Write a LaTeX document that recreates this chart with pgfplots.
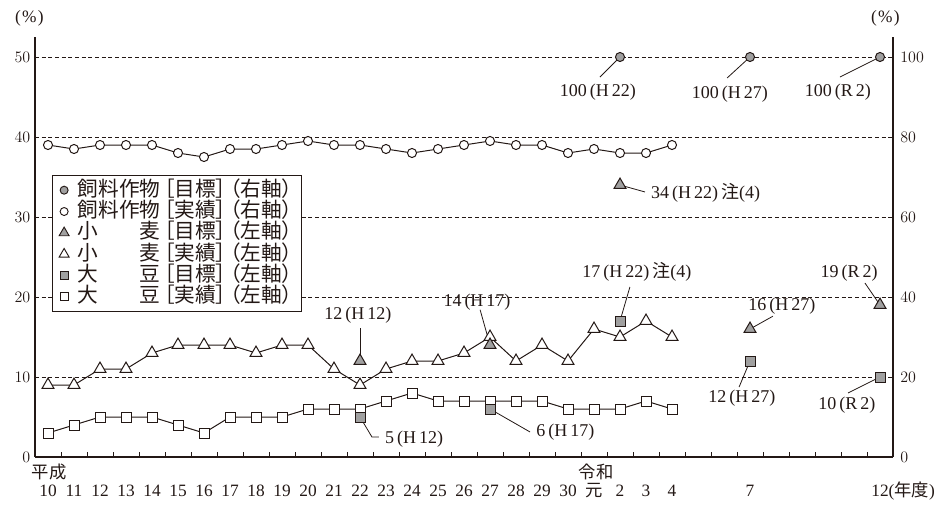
\documentclass[border=0pt]{standalone}
\usepackage{fontspec}
\setmainfont{Liberation Serif}
\newfontfamily\cjk{Noto Sans CJK JP}
\newfontfamily\cjkp[RawFeature=+palt]{Noto Sans CJK JP}
\usepackage{pgfplots}
\pgfplotsset{compat=1.18}
\definecolor{ink}{RGB}{35,24,21}
\definecolor{tgray}{RGB}{160,160,160}
\newcommand\tfont{\fontsize{13}{15}\selectfont}
\newcommand\afont{\fontsize{13.5}{16}\selectfont}
\newcommand\lfont{\fontsize{15.5}{17}\selectfont\cjkp}
\newcommand\lgent[3]{#1\kern3pt［#2］\kern3pt（#3）}
\begin{document}
\begin{tikzpicture}
\path (0pt,0pt) rectangle (708pt,-373.5pt);
% ---------- left axis ----------
\begin{axis}[
  at={(26.25pt,-342.75pt)}, anchor=south west,
  scale only axis, width=643.5pt, height=315pt,
  xmin=9.5, xmax=42.5, ymin=0, ymax=52.5,
  axis x line*=bottom, axis y line*=left,
  axis line style={-, draw=ink, line width=1pt},
  xtick={10,11,...,34,37,42},
  xticklabels={10,11,12,13,14,15,16,17,18,19,20,21,22,23,24,25,26,27,28,29,30,{\cjk 元},2,3,4,7,{12\rlap{({\cjk 年度})}}},
  minor xtick={10.5,11.5,...,41.5},
  ytick={0,10,...,50},
  major tick length=0pt, minor tick length=4pt, tick align=inside,
  minor tick style={draw=ink, line width=0.75pt},
  ymajorgrids, major grid style={draw=ink, line width=0.6pt, dash pattern=on 3pt off 2pt},
  xticklabel style={anchor=base, yshift=-29.6pt, font=\tfont, text=ink},
  yticklabel style={font=\tfont, text=ink},
  clip=false,
]
% leader lines
\draw[ink, line width=0.6pt] (axis cs:32,50) -- (axis cs:31.23,47.5);
\draw[ink, line width=0.6pt] (axis cs:37,50) -- (axis cs:36.12,47.38);
\draw[ink, line width=0.6pt] (axis cs:42,50) -- (axis cs:40.46,47.5);
\draw[ink, line width=0.6pt] (axis cs:32,34) -- (axis cs:32.96,33.13);
\draw[ink, line width=0.6pt] (axis cs:32,17) -- (axis cs:32.38,21.25);
\draw[ink, line width=0.6pt] (axis cs:22,12) -- (axis cs:22,16.1);
\draw[ink, line width=0.6pt] (axis cs:27,14) -- (axis cs:26.62,18.4);
\draw[ink, line width=0.6pt] (axis cs:22,5) -- (axis cs:22.46,2.5) -- (axis cs:22.73,2.5);
\draw[ink, line width=0.6pt] (axis cs:27,6) -- (axis cs:28.54,3.13);
\draw[ink, line width=0.6pt] (axis cs:37,16) -- (axis cs:37.88,17.6);
\draw[ink, line width=0.6pt] (axis cs:37,12) -- (axis cs:36.58,8.75);
\draw[ink, line width=0.6pt] (axis cs:42,10) -- (axis cs:40.77,8.0);
\draw[ink, line width=0.6pt] (axis cs:42,19) -- (axis cs:41.42,21.75);
% annotation texts
\node[font=\afont, text=ink] at (axis cs:31.15,45.63) {100\,(H\,22)};
\node[font=\afont, text=ink] at (axis cs:36.23,45.38) {100\,(H\,27)};
\node[font=\afont, text=ink] at (axis cs:40.38,45.63) {100\,(R\,2)};
\node[font=\afont, text=ink, anchor=west, inner sep=0pt] at (axis cs:33.19,33.0) {34\,(H\,22)\,{\cjk 注}(4)};
\node[font=\afont, text=ink] at (axis cs:32.65,23.1) {17\,(H\,22)\,{\cjk 注}(4)};
\node[font=\afont, text=ink] at (axis cs:21.92,17.75) {12\,(H\,12)};
\node[font=\afont, text=ink] at (axis cs:26.5,19.4) {14\,(H\,17)};
\node[font=\afont, text=ink, anchor=west, inner sep=0pt] at (axis cs:22.96,2.25) {5\,(H\,12)};
\node[font=\afont, text=ink, anchor=west, inner sep=0pt] at (axis cs:28.77,3.13) {6\,(H\,17)};
\node[font=\afont, text=ink] at (axis cs:38.23,18.9) {16\,(H\,27)};
\node[font=\afont, text=ink] at (axis cs:36.69,7.38) {12\,(H\,27)};
\node[font=\afont, text=ink] at (axis cs:40.73,6.5) {10\,(R\,2)};
\node[font=\afont, text=ink] at (axis cs:40.81,23.0) {19\,(R\,2)};
% wheat actual
\addplot[ink, line width=0.75pt, mark=triangle*, mark size=5.2pt,
  mark options={fill=white, draw=ink, line width=0.75pt, solid}] coordinates {
 (10,9)(11,9)(12,11)(13,11)(14,13)(15,14)(16,14)(17,14)(18,13)(19,14)(20,14)
 (21,11)(22,9)(23,11)(24,12)(25,12)(26,13)(27,15)(28,12)(29,14)(30,12)
 (31,16)(32,15)(33,17)(34,15)};
% soybean actual
\addplot[ink, line width=0.75pt, mark=square*, mark size=3.75pt,
  mark options={fill=white, draw=ink, line width=0.75pt, solid}] coordinates {
 (10,3)(11,4)(12,5)(13,5)(14,5)(15,4)(16,3)(17,5)(18,5)(19,5)(20,6)
 (21,6)(22,6)(23,7)(24,8)(25,7)(26,7)(27,7)(28,7)(29,7)(30,6)
 (31,6)(32,6)(33,7)(34,6)};
% wheat target
\addplot[only marks, mark=triangle*, mark size=5.2pt,
  mark options={fill=tgray, draw=ink, line width=0.75pt}] coordinates {
 (22,12)(27,14)(32,34)(37,16)(42,19)};
% soybean target
\addplot[only marks, mark=square*, mark size=3.75pt,
  mark options={fill=tgray, draw=ink, line width=0.75pt}] coordinates {
 (22,5)(27,6)(32,17)(37,12)(42,10)};
\end{axis}
% ---------- right axis ----------
\begin{axis}[
  at={(26.25pt,-342.75pt)}, anchor=south west,
  scale only axis, width=643.5pt, height=315pt,
  xmin=9.5, xmax=42.5, ymin=0, ymax=105,
  axis y line*=right, axis x line=none, xtick=\empty,
  axis line style={-, draw=ink, line width=1pt},
  ytick={0,20,...,100},
  major tick length=0pt,
  yticklabel style={font=\tfont, text=ink, xshift=2pt},
  clip=false,
  legend image code/.code={\draw[#1] plot coordinates {(0pt,0pt)};},
  legend cell align=left,
  legend style={at={(0.0198,0.6714)}, anchor=north west, draw=ink, line width=0.75pt,
    fill=white, inner xsep=5pt, inner ysep=3pt, font=\lfont, text=ink,
    nodes={inner xsep=1.6pt, inner ysep=0.6pt, text height=12pt, text depth=2.8pt},
    /tikz/every odd column/.append style={column sep=5pt}},
]
\addplot[forget plot, ink, line width=0.75pt, mark=*, mark size=3.4pt,
  mark options={fill=white, draw=ink, line width=0.75pt, solid}] coordinates {
 (10,78)(11,77)(12,78)(13,78)(14,78)(15,76)(16,75)(17,77)(18,77)(19,78)(20,79)
 (21,78)(22,78)(23,77)(24,76)(25,77)(26,78)(27,79)(28,78)(29,78)(30,76)
 (31,77)(32,76)(33,76)(34,78)};
\addplot[forget plot, only marks, mark=*, mark size=3.4pt,
  mark options={fill=tgray, draw=ink, line width=0.75pt}] coordinates {
 (32,100)(37,100)(42,100)};
\addlegendimage{mark=*, mark size=3pt, mark options={fill=tgray, draw=ink, line width=0.7pt}}
\addlegendentry{\lgent{飼料作物}{目標}{右軸}}
\addlegendimage{mark=*, mark size=3pt, mark options={fill=white, draw=ink, line width=0.7pt}}
\addlegendentry{\lgent{飼料作物}{実績}{右軸}}
\addlegendimage{mark=triangle*, mark size=4.3pt, mark options={fill=tgray, draw=ink, line width=0.7pt}}
\addlegendentry{\lgent{小\hbox to 2em{}麦}{目標}{左軸}}
\addlegendimage{mark=triangle*, mark size=4.3pt, mark options={fill=white, draw=ink, line width=0.7pt}}
\addlegendentry{\lgent{小\hbox to 2em{}麦}{実績}{左軸}}
\addlegendimage{mark=square*, mark size=3pt, mark options={fill=tgray, draw=ink, line width=0.7pt}}
\addlegendentry{\lgent{大\hbox to 2em{}豆}{目標}{左軸}}
\addlegendimage{mark=square*, mark size=3pt, mark options={fill=white, draw=ink, line width=0.7pt}}
\addlegendentry{\lgent{大\hbox to 2em{}豆}{実績}{左軸}}
\end{axis}
% outer labels
\node[font=\tfont, text=ink] at (22pt,-14pt) {(\kern1pt\%\kern1pt)};
\node[font=\tfont, text=ink] at (664pt,-14pt) {(\kern1pt\%\kern1pt)};
\node[font=\fontsize{13}{15}\selectfont\cjk, text=ink] at (36.75pt,-353.8pt) {平成};
\node[font=\fontsize{13}{15}\selectfont\cjk, text=ink] at (447pt,-353.8pt) {令和};
\end{tikzpicture}
\end{document}
